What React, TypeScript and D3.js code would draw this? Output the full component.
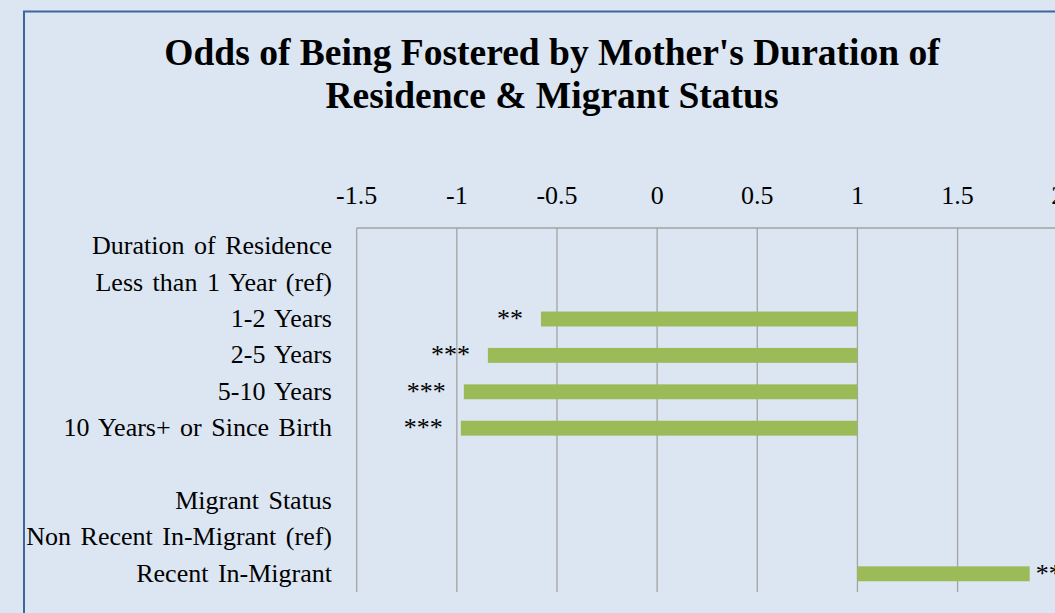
import React from 'react';
import * as d3 from 'd3';

// chart data
const categories = [
    "Duration of Residence",
    "Less than 1 Year (ref)",
    "1-2 Years",
    "2-5 Years",
    "5-10 Years",
    "10 Years+ or Since Birth",
    "",
    "Migrant Status",
    "Non Recent In-Migrant (ref)",
    "Recent In-Migrant",
];
const values: (number | null)[] = [null, null, -0.58, -0.845, -0.965, -0.98, null, null, null, 1.86];
const stars = ["", "", "**", "***", "***", "***", "", "", "", "**"];
const tickValues = [-1.5, -1, -0.5, 0, 0.5, 1, 1.5, 2];
const titleLines = ["Odds of Being Fostered by Mother's Duration of", "Residence & Migrant Status"];
const baseValue = 1;

const W = 1055;
const H = 613;
const font = "'Liberation Serif', 'Times New Roman', serif";
const labelSize = 26;

const App: React.FC = () => {
    const x = d3.scaleLinear().domain([-1.5, 2]).range([356.7, 1057.7]);
    const y = d3.scaleBand<number>()
        .domain(categories.map((_, i) => i))
        .range([228, 592])
        .paddingInner(0.59)
        .paddingOuter(0.295);
    const rowCenter = (i: number) => (y(i) as number) + y.bandwidth() / 2;

    return (
        <svg width={W} height={H} style={{ position: 'absolute', left: 0, top: 0, display: 'block' }}>
            <rect x={0} y={0} width={W} height={H} fill="#dce6f2" />
            {/* chart frame, runs off the right and bottom edge */}
            <rect x={24} y={11.5} width={W + 20} height={H + 20} fill="none" stroke="#3d669f" strokeWidth={2} />

            {titleLines.map((t, i) => (
                <text key={i} x={552} y={65 + i * 43.3} textAnchor="middle"
                    fontFamily={font} fontWeight="bold" fontSize={37.5} fill="#000">{t}</text>
            ))}

            {/* gridlines */}
            {tickValues.map(v => (
                <line key={v} x1={x(v)} x2={x(v)} y1={228} y2={592} stroke="#a3a3a3" strokeWidth={1.3} />
            ))}
            <line x1={x(-1.5)} x2={W} y1={228} y2={228} stroke="#a3a3a3" strokeWidth={1.3} />

            {/* tick labels */}
            {tickValues.map(v => (
                <text key={v} x={x(v)} y={204} textAnchor="middle" fontFamily={font} fontSize={labelSize} fill="#000">
                    {String(v)}
                </text>
            ))}

            {/* category labels */}
            {categories.map((c, i) => (
                <text key={i} x={332} y={rowCenter(i) + 8} wordSpacing={3}
                    textAnchor="end" fontFamily={font} fontSize={labelSize} fill="#000">{c}</text>
            ))}

            {/* bars */}
            {values.map((v, i) => v === null ? null : (
                <rect key={i}
                    x={Math.min(x(v), x(baseValue))}
                    y={y(i)}
                    width={Math.abs(x(v) - x(baseValue))}
                    height={y.bandwidth()}
                    fill="#9bbb59" />
            ))}

            {/* significance labels */}
            {values.map((v, i) => v === null ? null : (
                <text key={i}
                    x={v < baseValue ? x(v) - 18 : x(v) + 6}
                    y={rowCenter(i) + 8}
                    textAnchor={v < baseValue ? 'end' : 'start'}
                    fontFamily={font} fontSize={labelSize} fill="#000">{stars[i]}</text>
            ))}
        </svg>
    );
};

export default App;
